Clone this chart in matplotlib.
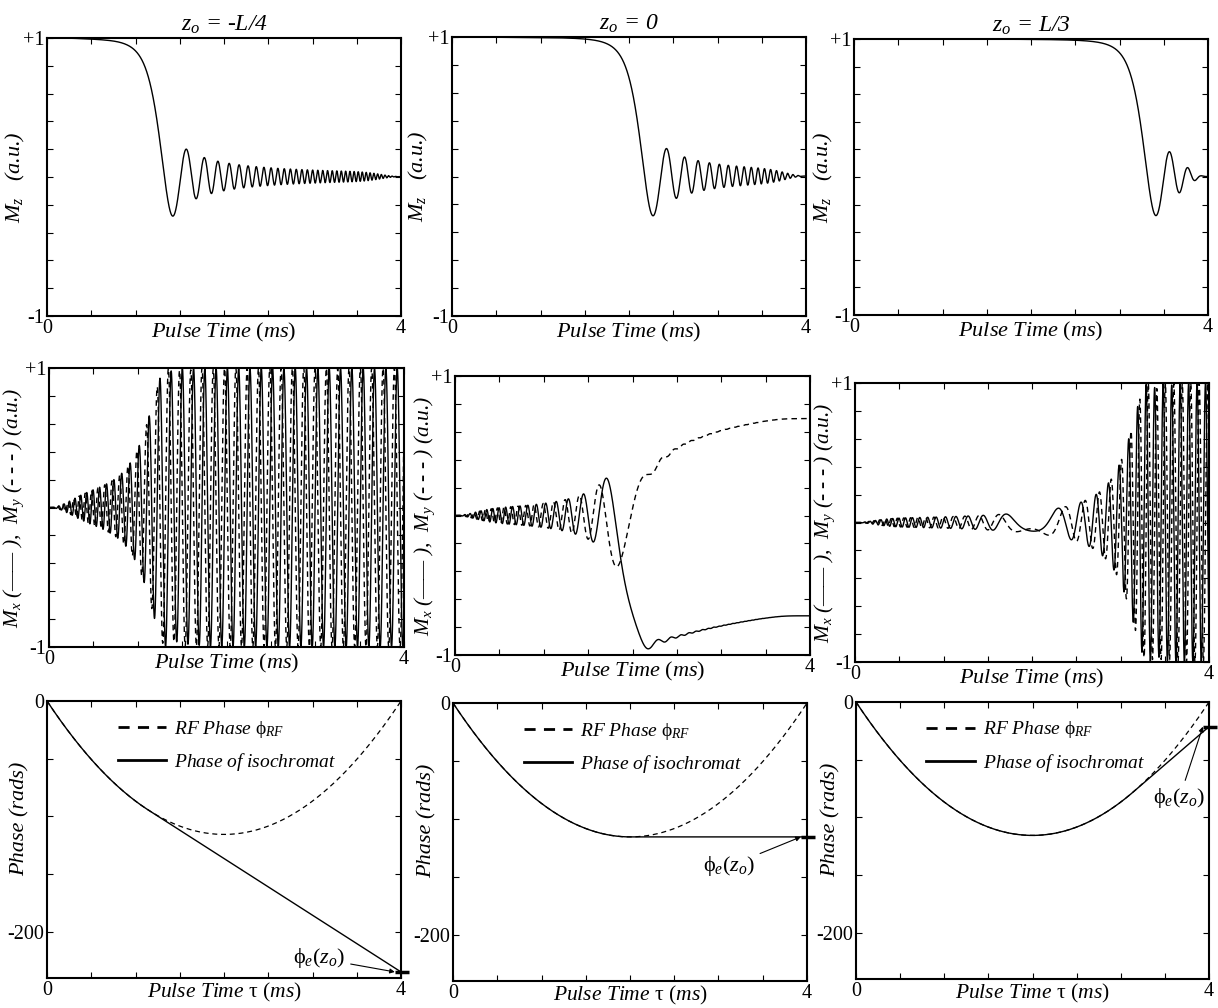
import numpy as np
import matplotlib
matplotlib.use("Agg")
import matplotlib.pyplot as plt
import math

plt.rcParams['font.family'] = ['Liberation Serif', 'DejaVu Serif']
plt.rcParams['mathtext.fontset'] = 'custom'
plt.rcParams['mathtext.rm'] = 'Liberation Serif'
plt.rcParams['mathtext.it'] = 'Liberation Serif:italic'

# ---------------- data ----------------
titles = ["$z_o$ = -L/4", "$z_o$ = 0", "$z_o$ = L/3"]
pulse_ms = 4.0                    # pulse duration (ms)
rf_phase_min = -115.6             # RF phase at mid-pulse (rads)
resonance_ms = [1.15, 2.0, 3.14]  # time at which each isochromat is on resonance
b1_peak = 5.04                    # RF amplitude (rad/ms) -> 90 deg chirp
b1_phase_offset = math.pi         # B1 field direction convention
wurst_order = 40                  # amplitude taper order
n_steps = 16000
phase_ylim = (-240, 0)
label_text = "ϕ$_e$($z_o$)"
label_pos = [(2.78, -223), (2.82, -141), (3.37, -83)]
xlabel_top = r"$\it{Pulse\ Time\ (ms)}$"
xlabel_bottom = r"$\it{Pulse\ Time}$ τ $\it{(ms)}$"
legend_labels = [r"$\it{RF\ Phase}$ ϕ$_{RF}$", r"$\it{Phase\ of\ isochromat}$"]

# ---------------- model ----------------
T = pulse_ms
a = -rf_phase_min / (T / 2) ** 2
t = np.linspace(0, T, n_steps + 1)
phi_rf = a * (t ** 2 - T * t)


def bloch(t0):
    w0 = a * (2 * t0 - T)
    dt = T / n_steps
    M = np.zeros((n_steps + 1, 3))
    mx, my, mz = 0.0, 0.0, 1.0
    M[0] = (mx, my, mz)
    for i in range(n_steps):
        tm = t[i] + dt / 2
        ph = a * (tm * tm - T * tm) + b1_phase_offset
        b = b1_peak * (1 - abs(math.cos(math.pi * tm / T)) ** wurst_order)
        ox, oy, oz = b * math.cos(ph), b * math.sin(ph), -w0
        om = math.sqrt(ox * ox + oy * oy + oz * oz)
        kx, ky, kz = ox / om, oy / om, oz / om
        th = -om * dt
        c, s = math.cos(th), math.sin(th)
        kd = kx * mx + ky * my + kz * mz
        cx = ky * mz - kz * my
        cy = kz * mx - kx * mz
        cz = kx * my - ky * mx
        mx, my, mz = (mx * c + cx * s + kx * kd * (1 - c),
                      my * c + cy * s + ky * kd * (1 - c),
                      mz * c + cz * s + kz * kd * (1 - c))
        M[i + 1] = (mx, my, mz)
    return M


def iso_phase(t0):
    p0 = a * (t0 ** 2 - T * t0)
    slope = a * (2 * t0 - T)
    return np.where(t < t0, phi_rf, p0 + slope * (t - t0))


# ---------------- layout (pixel boxes: left, top, right, bottom) ----------------
W, H = 1218, 1008
boxes = [
    [(47, 38, 401, 316), (452, 37, 806, 316), (854, 39, 1208, 315)],
    [(49, 368, 404, 647), (455, 376, 810, 655), (855, 383, 1209, 662)],
    [(47, 701, 401, 978), (453, 703, 807, 981), (856, 702, 1209, 979)],
]
ylab_dx = [[-20, -22, -19], [-23, -18, -18], [-17, -16, -15]]

fig = plt.figure(figsize=(W / 100, H / 100), dpi=100)
FS_TICK = 14.5
FS_LAB = 16


def make_ax(i, j):
    l, tp, r, b = boxes[i][j]
    ax = fig.add_axes([l / W, 1 - b / H, (r - l) / W, (b - tp) / H])
    for sp in ax.spines.values():
        sp.set_linewidth(1.5)
    ax.tick_params(direction='in', top=True, right=True, length=4, width=0.8,
                   labelsize=FS_TICK, pad=2)
    ax.set_xlim(0, T)
    ax.set_xticks(np.arange(0, T + 0.01, 0.5))
    ax.set_xticklabels(["0"] + [""] * 7 + ["4"])
    return ax, (r - l), (b - tp)


def place_labels(ax, w, h, i, j, ylab_y=0.5, xlab_dy=5.0):
    ax.xaxis.set_label_coords(0.5, -xlab_dy / h)
    ax.yaxis.set_label_coords(ylab_dx[i][j] / w, ylab_y)


for j in range(3):
    M = bloch(resonance_ms[j])

    # row 1: Mz
    ax, w, h = make_ax(0, j)
    ax.plot(t, M[:, 2], color='k', lw=1.0)
    ax.set_ylim(-1, 1)
    ax.set_yticks(np.linspace(-1, 1, 11))
    ax.set_yticklabels(["-1"] + [""] * 9 + ["+1"])
    ax.set_title(titles[j], fontsize=17, style='italic', pad=5)
    ax.set_xlabel(xlabel_top, fontsize=FS_LAB)
    ax.set_ylabel("$M_z$   (a.u.)", fontsize=FS_LAB, style='italic')
    place_labels(ax, w, h, 0, j)

    # row 2: Mx, My
    ax, w, h = make_ax(1, j)
    ax.plot(t, M[:, 0], color='k', lw=1.0)
    ax.plot(t, M[:, 1], color='k', lw=1.0, ls=(0, (4, 3)))
    ax.set_ylim(-1, 1)
    ax.set_yticks(np.linspace(-1, 1, 11))
    ax.set_yticklabels(["-1"] + [""] * 9 + ["+1"])
    ax.set_xlabel(xlabel_top, fontsize=FS_LAB)
    ax.set_ylabel("$M_x$ (—— ),  $M_y$ (- - - ) (a.u.)", fontsize=15.5,
                  style='italic')
    place_labels(ax, w, h, 1, j)

    # row 3: phases
    ax, w, h = make_ax(2, j)
    ph_iso = iso_phase(resonance_ms[j])
    ax.plot(t, phi_rf, color='k', lw=0.9, ls=(0, (4, 3)), label=legend_labels[0])
    ax.plot(t, ph_iso, color='k', lw=1.0, label=legend_labels[1])
    ax.set_ylim(*phase_ylim)
    ax.set_yticks([-200, -150, -100, -50, 0])
    ax.set_yticklabels(["-200", "", "", "", "0"])
    ax.set_xlabel(xlabel_bottom, fontsize=15.5)
    ax.set_ylabel("Phase (rads)", fontsize=FS_LAB, style='italic')
    place_labels(ax, w, h, 2, j, ylab_y=0.575, xlab_dy=3.0)
    leg = ax.legend(loc='upper left', bbox_to_anchor=(0.15, 1.0), frameon=False,
                    handlelength=2.5, handletextpad=0.4, labelspacing=0.6,
                    prop={'size': 14})
    for hd in leg.legend_handles:
        hd.set_linewidth(2.0)
    end_val = ph_iso[-1]
    ax.plot([3.93, 4.09], [end_val, end_val], color='k', lw=2.5,
            clip_on=False, solid_capstyle='butt')
    ax.annotate(label_text, xy=(3.93, end_val), xytext=label_pos[j],
                fontsize=FS_LAB, ha='left', va='center',
                arrowprops=dict(arrowstyle='-|>', lw=0.8, color='k',
                                mutation_scale=7, shrinkA=2, shrinkB=0))

fig.savefig("out.png", dpi=100)
